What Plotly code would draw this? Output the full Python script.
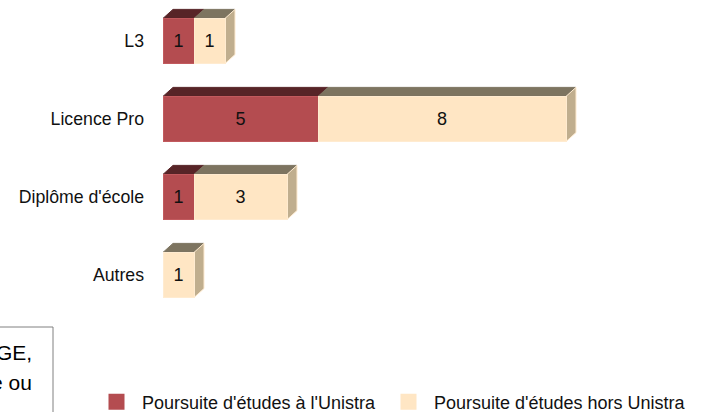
import plotly.graph_objects as go

# ---- data ----
categories = ["L3", "Licence Pro", "Diplôme d'école", "Autres"]
unistra = [1, 5, 1, 0]
hors_unistra = [1, 8, 3, 1]
series_names = ["Poursuite d'études à l'Unistra", "Poursuite d'études hors Unistra"]

# ---- layout constants (pixels) ----
W, H = 701, 412
ML, MR, MT, MB = 163, 11, 0, 92
XMAX = 17
PW, PH = W - ML - MR, H - MT - MB
YMAX = 3 + 41 / 78
YMIN = YMAX - PH / 78
BARW = 0.58
DX = 10 / (PW / XMAX)              # 3D depth, x (data units)
DY = 9 / (PH / (YMAX - YMIN))      # 3D depth, y (data units)

FONT = "Arial, Liberation Sans, sans-serif"
front = ["#B44C50", "#FFE6C4"]
top_c = ["#572427", "#7D7460"]
side_c = ["#6E2A2E", "#C0AE8E"]
edge = ["#C25A5E", "#FFEBD0"]

pos = list(range(len(categories) - 1, -1, -1))

def cx(p):
    return p / W

def cy(p):
    return 1 - p / H

def px_x(p):
    return (p - ML) / PW

def px_y(p):
    return (H - MB - p) / PH

fig = go.Figure()
for k, vals in enumerate([unistra, hors_unistra]):
    fig.add_trace(go.Bar(
        y=pos, x=vals, orientation="h", name=series_names[k],
        width=BARW, showlegend=False,
        marker=dict(color=front[k], line=dict(color=edge[k], width=1)),
        text=[str(v) if v else "" for v in vals],
        textposition="inside", insidetextanchor="middle", textangle=0,
        constraintext="none",
        textfont=dict(family=FONT, size=18, color="#111111"),
        hoverinfo="skip",
    ))

# legend entries (square swatches)
for k in range(2):
    fig.add_trace(go.Scatter(
        x=[None], y=[None], mode="markers", name=series_names[k],
        marker=dict(symbol="square", size=16, color=front[k]),
        legend="legend" if k == 0 else "legend2",
        showlegend=True, hoverinfo="skip"))

shapes = []
for i, y in enumerate(pos):
    yt, yb = y + BARW / 2, y - BARW / 2
    start = 0
    segs = []
    for k, vals in enumerate([unistra, hors_unistra]):
        v = vals[i]
        if v:
            segs.append((k, start, start + v))
        start += v
    for k, x0, x1 in segs:
        shapes.append(dict(
            type="path", xref="x", yref="y", layer="below",
            path=f"M {x0},{yt} L {x1},{yt} L {x1+DX},{yt+DY} L {x0+DX},{yt+DY} Z",
            fillcolor=top_c[k], line=dict(color=top_c[k], width=1)))
    k, x0, x1 = segs[-1]
    shapes.append(dict(
        type="path", xref="x", yref="y", layer="below",
        path=f"M {x1},{yt} L {x1+DX},{yt+DY} L {x1+DX},{yb+DY} L {x1},{yb} Z",
        fillcolor=side_c[k], line=dict(color=edge[k], width=1)))

# clipped text box at bottom-left (only its right part is visible)
shapes.append(dict(type="rect", xref="paper", yref="paper",
                   x0=px_x(-40), x1=px_x(53), y0=px_y(450), y1=px_y(327),
                   line=dict(color="#808080", width=1), fillcolor="rgba(0,0,0,0)"))

annotations = [
    dict(text="GE,", xref="paper", yref="paper", x=px_x(34), y=px_y(352),
         xanchor="right", yanchor="middle", showarrow=False,
         font=dict(family=FONT, size=21, color="#000000")),
    dict(text="e ou", xref="paper", yref="paper", x=px_x(34), y=px_y(382),
         xanchor="right", yanchor="middle", showarrow=False,
         font=dict(family=FONT, size=21, color="#000000")),
]

legend_common = dict(orientation="h", xref="container", yref="container",
                     xanchor="left", yanchor="middle", itemwidth=41,
                     font=dict(family=FONT, size=18, color="#111111"),
                     bgcolor="rgba(0,0,0,0)")

fig.update_layout(
    width=W, height=H,
    margin=dict(l=ML, r=MR, t=MT, b=MB, autoexpand=False),
    paper_bgcolor="white", plot_bgcolor="white",
    barmode="stack",
    showlegend=True,
    legend=dict(x=cx(91), y=cy(402), **legend_common),
    legend2=dict(x=cx(383), y=cy(402), **legend_common),
    xaxis=dict(range=[0, XMAX], visible=False, fixedrange=True),
    yaxis=dict(range=[YMIN, YMAX], tickvals=pos, ticktext=categories,
               showgrid=False, zeroline=False, showline=False, ticks="",
               automargin=False, ticklabelstandoff=18,
               tickfont=dict(family=FONT, size=17.7, color="#111111")),
    shapes=shapes, annotations=annotations,
)

fig.write_html("out.html",
               config={"displayModeBar": False},
               post_script="document.body.style.margin='0';document.body.style.overflow='hidden';")
